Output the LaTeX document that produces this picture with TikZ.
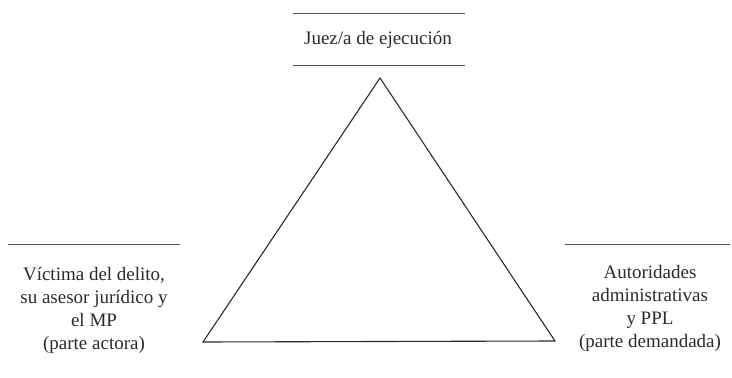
\documentclass[tikz,border=0pt]{standalone}
\usepackage{fontspec}
\setmainfont{Liberation Serif}
\definecolor{ink}{HTML}{2A2A2A}
\definecolor{rule}{HTML}{555555}
\begin{document}
\begin{tikzpicture}[x=1pt,y=-1pt,
  lbl/.style={align=center,text=ink,font=\fontsize{19}{23}\selectfont,inner sep=0pt},
  hrule/.style={draw=rule,line width=0.9pt},
  tri/.style={draw=ink,line width=1.1pt,line join=miter}]
\useasboundingbox (0,0) rectangle (732,378);
% triangle vertices
\coordinate (A) at (380,78);
\coordinate (B) at (203,342);
\coordinate (C) at (555,341);
\draw[tri] (A) -- (B) -- (C) -- cycle;
% top
\coordinate (t1) at (293,13); \coordinate (t2) at (465,13);
\coordinate (t3) at (293,65); \coordinate (t4) at (465,65);
\draw[hrule] (t1) -- (t2);
\draw[hrule] (t3) -- (t4);
\node[lbl] (juez) at (378,40) {Juez/a de ejecución};
% left
\coordinate (l1) at (8,244); \coordinate (l2) at (180,244);
\draw[hrule] (l1) -- (l2);
\node[lbl] (vict) at (94,310) {Víctima del delito,\\su asesor jurídico y\\el MP\\(parte actora)};
% right
\coordinate (r1) at (565,244); \coordinate (r2) at (730,244);
\draw[hrule] (r1) -- (r2);
\node[lbl] (auto) at (650,308) {Autoridades\\administrativas\\y PPL\\(parte demandada)};
\end{tikzpicture}
\end{document}
